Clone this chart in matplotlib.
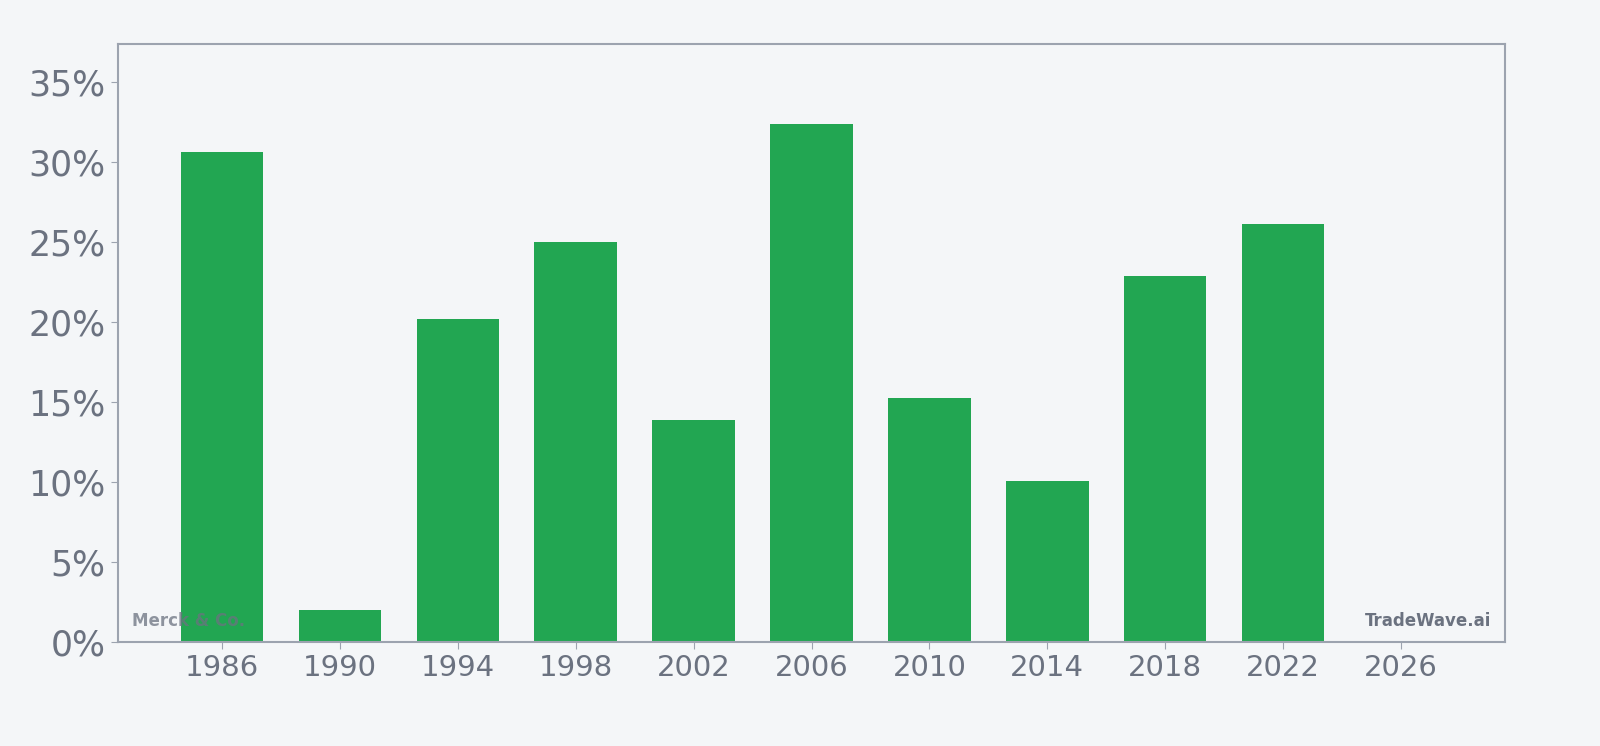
import matplotlib
matplotlib.use("Agg")
import matplotlib.pyplot as plt
from matplotlib.ticker import FuncFormatter, MultipleLocator

years = [1986, 1990, 1994, 1998, 2002, 2006, 2010, 2014, 2018, 2022]
values = [30.6, 2.0, 20.2, 25.0, 13.9, 32.4, 15.25, 10.05, 22.85, 26.15]
xticks = [1986, 1990, 1994, 1998, 2002, 2006, 2010, 2014, 2018, 2022, 2026]

bg = "#f4f6f8"
bar_color = "#22a652"
text_color = "#6b7280"
spine_color = "#9ca3af"

fig = plt.figure(figsize=(16, 7.46), dpi=100, facecolor=bg)
ax = fig.add_axes([118/1600, 1 - 642/746, (1505-118)/1600, (642-44)/746])
ax.set_facecolor(bg)

ax.bar(years, values, width=2.8, color=bar_color, zorder=2)
ax.text(0.01, 0.035, "Merck & Co.", transform=ax.transAxes, fontsize=12,
        fontweight="bold", color=text_color, alpha=0.75, ha="left", va="center", zorder=3)
ax.text(0.99, 0.035, "TradeWave.ai", transform=ax.transAxes, fontsize=12,
        fontweight="bold", color=text_color, ha="right", va="center", zorder=3)

ax.set_xlim(1982.47, 2029.53)
ax.set_ylim(0, 37.375)
ax.set_xticks(xticks)
ax.yaxis.set_major_locator(MultipleLocator(5))
ax.yaxis.set_major_formatter(FuncFormatter(lambda v, p: f"{v:.0f}%"))

ax.tick_params(axis="x", labelsize=21, colors=spine_color, labelcolor=text_color, length=5, pad=4)
ax.tick_params(axis="y", labelsize=25, colors=spine_color, labelcolor=text_color, length=5, pad=4)
for s in ax.spines.values():
    s.set_color(spine_color)
    s.set_linewidth(1.5)

fig.savefig("out.png", dpi=100, facecolor=bg)
